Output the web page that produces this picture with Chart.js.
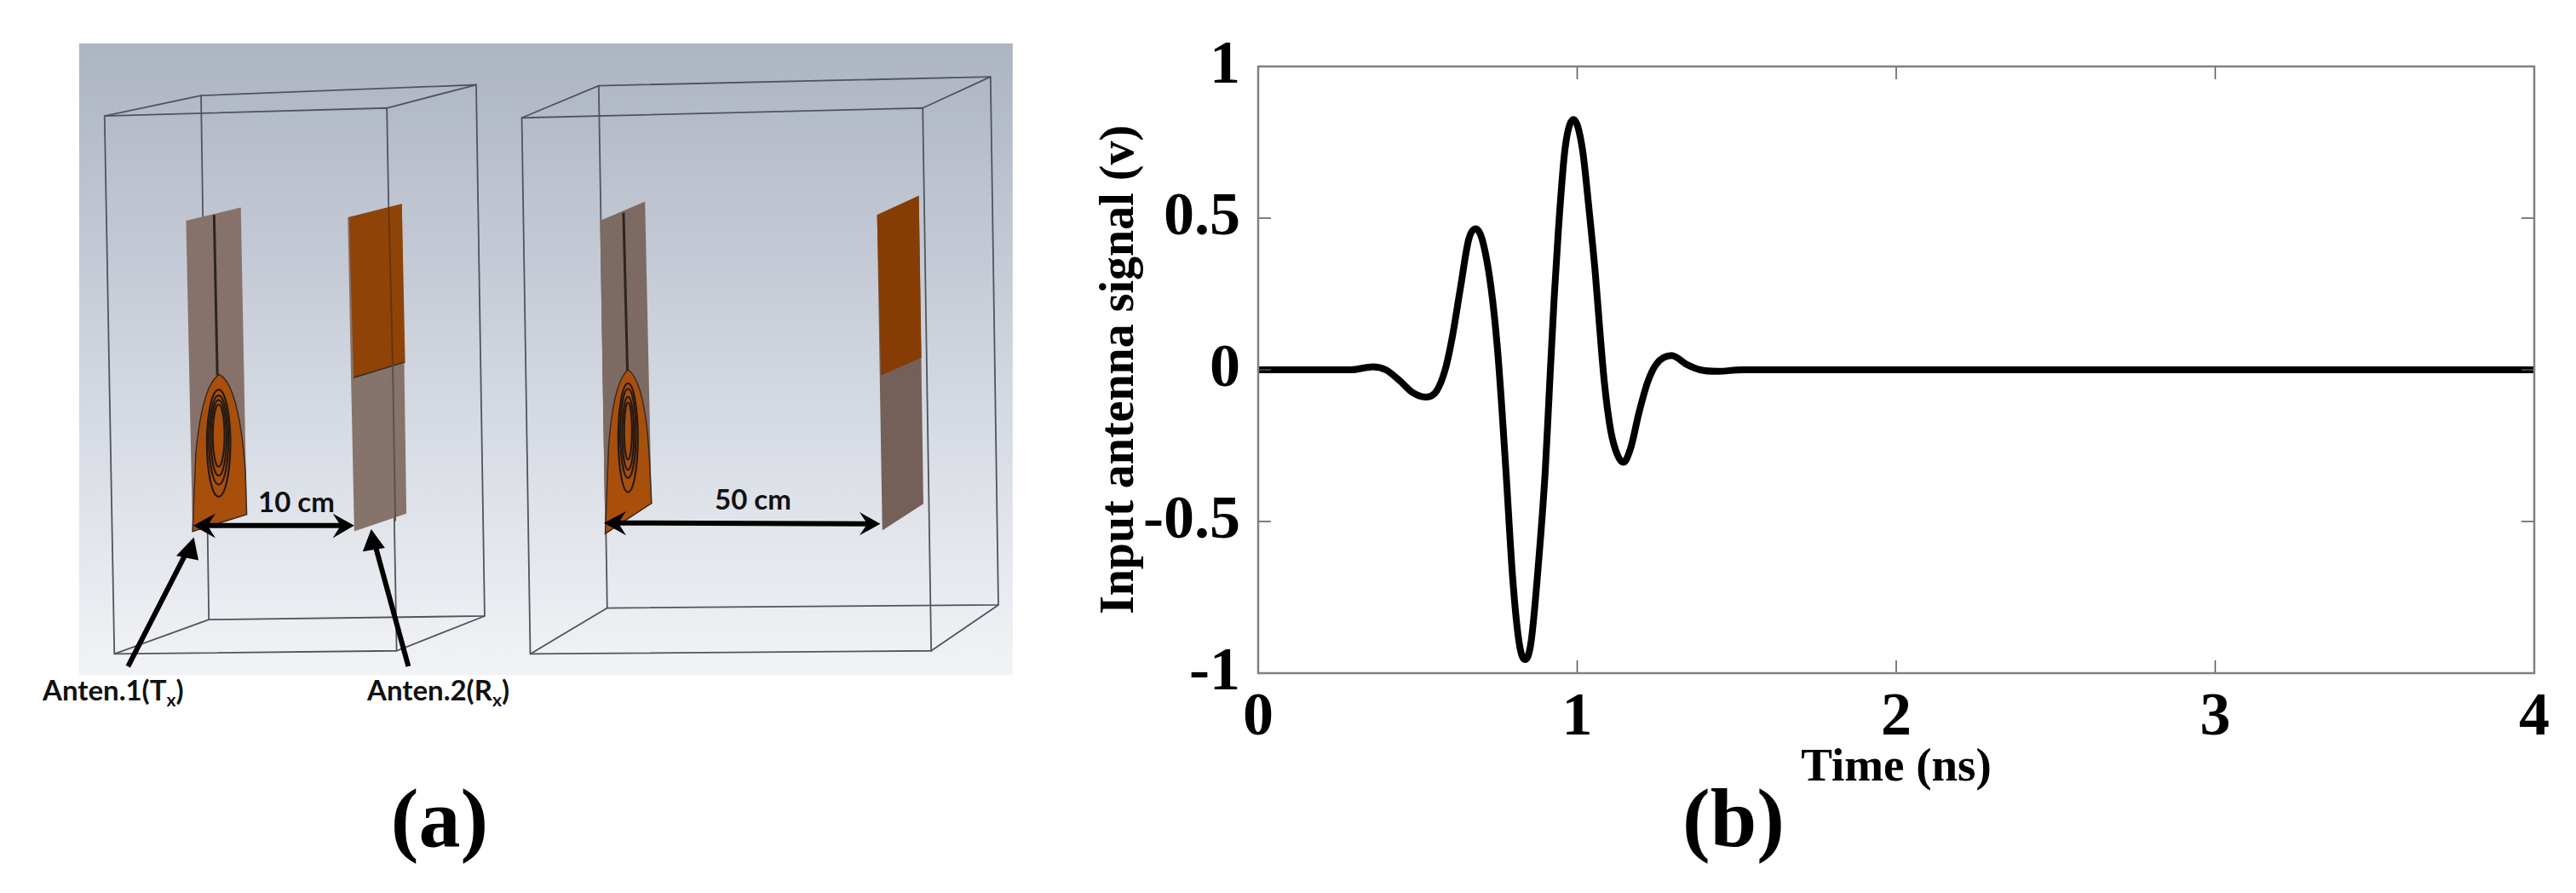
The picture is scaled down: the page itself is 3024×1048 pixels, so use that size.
<!DOCTYPE html>
<html>
<head>
<meta charset="utf-8">
<title>Input antenna signal</title>
<script src="https://cdn.jsdelivr.net/npm/chart.js@4/dist/chart.umd.min.js"></script>
<style>
  html, body { margin: 0; padding: 0; background: #fff; width: 3024px; height: 1048px; overflow: hidden; }
  canvas, svg { position: absolute; left: 0; top: 0; }
  .cap { font-family: 'Liberation Serif', serif; font-weight: bold; font-size: 98px; fill: #000; text-anchor: middle; }
  .note { font-family: Lato, 'Open Sans', sans-serif; font-weight: bold; font-size: 33px; fill: #111; }
  .wire { fill: none; stroke: #50555c; stroke-width: 1.8; vector-effect: non-scaling-stroke; }
  .arrow { fill: none; stroke: #000; stroke-width: 6; vector-effect: non-scaling-stroke; }
  .ring { fill: none; stroke: #241a14; stroke-width: 2.2; vector-effect: non-scaling-stroke; }
  .slot { fill: none; stroke: #2e2420; stroke-width: 3; vector-effect: non-scaling-stroke; }
  .edge { stroke: #3a2a20; stroke-width: 1.5; vector-effect: non-scaling-stroke; }
</style>
</head>
<body>
<svg width="3024" height="1048">
  <defs>
    <linearGradient id="bg" x1="0" y1="0" x2="0" y2="1">
      <stop offset="0" stop-color="#adb4c2"/>
      <stop offset="0.5" stop-color="#cfd4de"/>
      <stop offset="1" stop-color="#f2f3f6"/>
    </linearGradient>
  </defs>
  <g transform="translate(60 30) scale(0.7653 0.523)">
    <rect x="43" y="40" width="1432" height="1418" fill="url(#bg)"/>

    <!-- left box -->
    <path class="wire" d="M82 203 L515 185 L530 1403 L97 1410 Z"/>
    <path class="wire" d="M230 157 L652 133 L665 1325 L242 1333 Z"/>
    <path class="wire" d="M82 203 L230 157 M515 185 L652 133 M530 1403 L665 1325 M97 1410 L242 1333"/>

    <polygon points="207,438 291,408 300,1097 217,1135" fill="#86726b"/>
    <path class="edge" d="M217 1135 L222 960 Q232 805 258 783 Q288 805 298 1000 L300 1097 Z" fill="#a94f0c"/>
    <path class="slot" d="M250 425 L255 785"/>
    <ellipse class="ring" cx="257" cy="937" rx="18" ry="120"/>
    <ellipse class="ring" cx="257" cy="930" rx="15" ry="100"/>
    <ellipse class="ring" cx="257" cy="925" rx="12" ry="85"/>
    <ellipse class="ring" cx="257" cy="920" rx="9" ry="70"/>

    <polygon points="455,430 538,400 545,1095 465,1135" fill="#86736b"/>
    <polygon points="457,430 538,400 543,755 464,790" fill="#8f4306"/>
    <path class="edge" d="M464 790 L543 755" fill="none"/>
    <path class="slot" d="M518 408 L524 762" style="stroke:#6b3208;stroke-width:2"/>
    <path class="slot" d="M524 762 L528 1112" style="stroke:#5f5048;stroke-width:2"/>

    <!-- right box -->
    <path class="wire" d="M722 207 L1337 185 L1350 1403 L735 1410 Z"/>
    <path class="wire" d="M840 135 L1441 115 L1453 1300 L853 1307 Z"/>
    <path class="wire" d="M722 207 L840 135 M1337 185 L1441 115 M1350 1403 L1453 1300 M735 1410 L853 1307"/>

    <polygon points="842,438 911,395 921,1072 850,1140" fill="#7d6a63"/>
    <path class="edge" d="M850 1140 L855 950 Q862 800 885 772 Q912 800 918 980 L921 1072 Z" fill="#a94f0c"/>
    <path class="slot" d="M878 420 L884 775"/>
    <ellipse class="ring" cx="885" cy="925" rx="15" ry="122"/>
    <ellipse class="ring" cx="885" cy="915" rx="12" ry="100"/>
    <ellipse class="ring" cx="885" cy="915" rx="9" ry="82"/>
    <ellipse class="ring" cx="885" cy="910" rx="6" ry="64"/>

    <polygon points="1267,425 1331,382 1338,1073 1275,1133" fill="#746059"/>
    <polygon points="1267,425 1331,382 1335,745 1273,785" fill="#863c03"/>

    <!-- dimension arrows -->
    <path class="arrow" d="M235 1122 L450 1122"/>
    <polygon points="218,1122 252,1095 240,1122 252,1150" fill="#000"/>
    <polygon points="465,1122 432,1095 444,1122 432,1150" fill="#000"/>
    <path class="arrow" d="M865 1116 L1258 1118"/>
    <polygon points="848,1116 882,1090 870,1116 882,1144" fill="#000"/>
    <polygon points="1272,1118 1240,1092 1252,1118 1240,1144" fill="#000"/>
    <path class="arrow" d="M118 1438 L210 1175"/>
    <polygon points="219,1148 192,1190 226,1200" fill="#000"/>
    <path class="arrow" d="M548 1438 L496 1160"/>
    <polygon points="491,1130 478,1180 512,1172" fill="#000"/>
  </g>

  <text class="note" x="303" y="601">10 cm</text>
  <text class="note" x="839" y="598">50 cm</text>
  <text class="note" x="50" y="822">Anten.1(T<tspan font-size="21" dy="7">x</tspan><tspan dy="-7">)</tspan></text>
  <text class="note" x="431" y="822">Anten.2(R<tspan font-size="21" dy="7">x</tspan><tspan dy="-7">)</tspan></text>

  <text class="cap" x="516" y="993">(a)</text>
  <text class="cap" x="2035" y="993">(b)</text>
</svg>

<canvas id="signalChart" width="3024" height="1048"></canvas>

<script>
const timeNs = [0, 0.15, 0.29, 0.36, 0.40, 0.443, 0.484, 0.525, 0.559, 0.586, 0.607, 0.634, 0.66, 0.682, 0.702,
  0.73, 0.75, 0.764, 0.777, 0.798, 0.818, 0.836, 0.855, 0.88, 0.90, 0.914, 0.928, 0.941, 0.962, 0.989,
  1.016, 1.037, 1.057, 1.071, 1.085, 1.105, 1.126, 1.145, 1.167, 1.194, 1.221, 1.249, 1.296, 1.344,
  1.385, 1.44, 1.515, 2, 3, 4];
const signalV = [0, 0, 0, 0.01, 0, -0.035, -0.075, -0.09, -0.07, 0, 0.1, 0.27, 0.43, 0.465, 0.43,
  0.27, 0.07, -0.13, -0.34, -0.69, -0.9, -0.955, -0.9, -0.62, -0.33, -0.04, 0.24, 0.46, 0.73, 0.825,
  0.73, 0.53, 0.315, 0.13, -0.04, -0.2, -0.28, -0.305, -0.26, -0.14, -0.04, 0.02, 0.047, 0.017,
  0, -0.005, 0, 0, 0, 0];
const xTicks = [0, 1, 2, 3, 4];
const yTicks = [-1, -0.5, 0, 0.5, 1];

const points = timeNs.map((t, i) => ({ x: t, y: signalV[i] }));

// box round the plot and the short inward ticks on all four sides
const boxTicks = {
  id: 'boxTicks',
  afterDraw(chart) {
    const { ctx, chartArea: a, scales } = chart;
    ctx.save();
    ctx.strokeStyle = '#555';
    ctx.lineWidth = 1.5;
    ctx.beginPath();
    xTicks.forEach(v => {
      const x = scales.x.getPixelForValue(v);
      ctx.moveTo(x, a.bottom); ctx.lineTo(x, a.bottom - 15);
      ctx.moveTo(x, a.top); ctx.lineTo(x, a.top + 15);
    });
    yTicks.forEach(v => {
      const y = scales.y.getPixelForValue(v);
      ctx.moveTo(a.left, y); ctx.lineTo(a.left + 15, y);
      ctx.moveTo(a.right, y); ctx.lineTo(a.right - 15, y);
    });
    ctx.stroke();
    ctx.strokeStyle = '#808080';
    ctx.lineWidth = 2.5;
    ctx.strokeRect(a.left, a.top, a.right - a.left, a.bottom - a.top);
    ctx.restore();
  }
};

const tickFont = { family: "'Liberation Serif', serif", weight: 'bold', size: 72, lineHeight: 1 };
const titleFont = { family: "'Liberation Serif', serif", weight: 'bold', size: 55 };

new Chart(document.getElementById('signalChart').getContext('2d'), {
  type: 'line',
  data: {
    datasets: [{
      data: points,
      borderColor: '#000',
      borderWidth: 8,
      pointRadius: 0,
      cubicInterpolationMode: 'monotone',
      fill: false,
    }],
  },
  options: {
    responsive: false,
    animation: false,
    layout: { padding: { left: 1282, top: 78, right: 49, bottom: 0 } },
    plugins: { legend: { display: false }, tooltip: { enabled: false }, title: { display: false } },
    scales: {
      x: {
        type: 'linear',
        min: 0,
        max: 4,
        afterBuildTicks: s => { s.ticks = xTicks.map(v => ({ value: v })); },
        afterFit: s => { s.height = 258; },
        grid: { display: false },
        border: { display: false },
        ticks: { color: '#000', font: tickFont, padding: 9, maxRotation: 0, autoSkip: false, callback: v => String(v) },
        title: { display: true, text: 'Time (ns)', color: '#000', font: titleFont, padding: { top: 0, bottom: 113 } },
      },
      y: {
        type: 'linear',
        min: -1,
        max: 1,
        afterBuildTicks: s => { s.ticks = yTicks.map(v => ({ value: v })); },
        afterFit: s => { s.width = 195; },
        grid: { display: false },
        border: { display: false },
        ticks: { color: '#000', font: tickFont, padding: 13, autoSkip: false, callback: v => String(v) },
        title: { display: true, text: 'Input antenna signal (v)', color: '#000', font: { ...titleFont, size: 56 }, padding: 0 },
      },
    },
  },
  plugins: [boxTicks],
});
</script>
</body>
</html>
